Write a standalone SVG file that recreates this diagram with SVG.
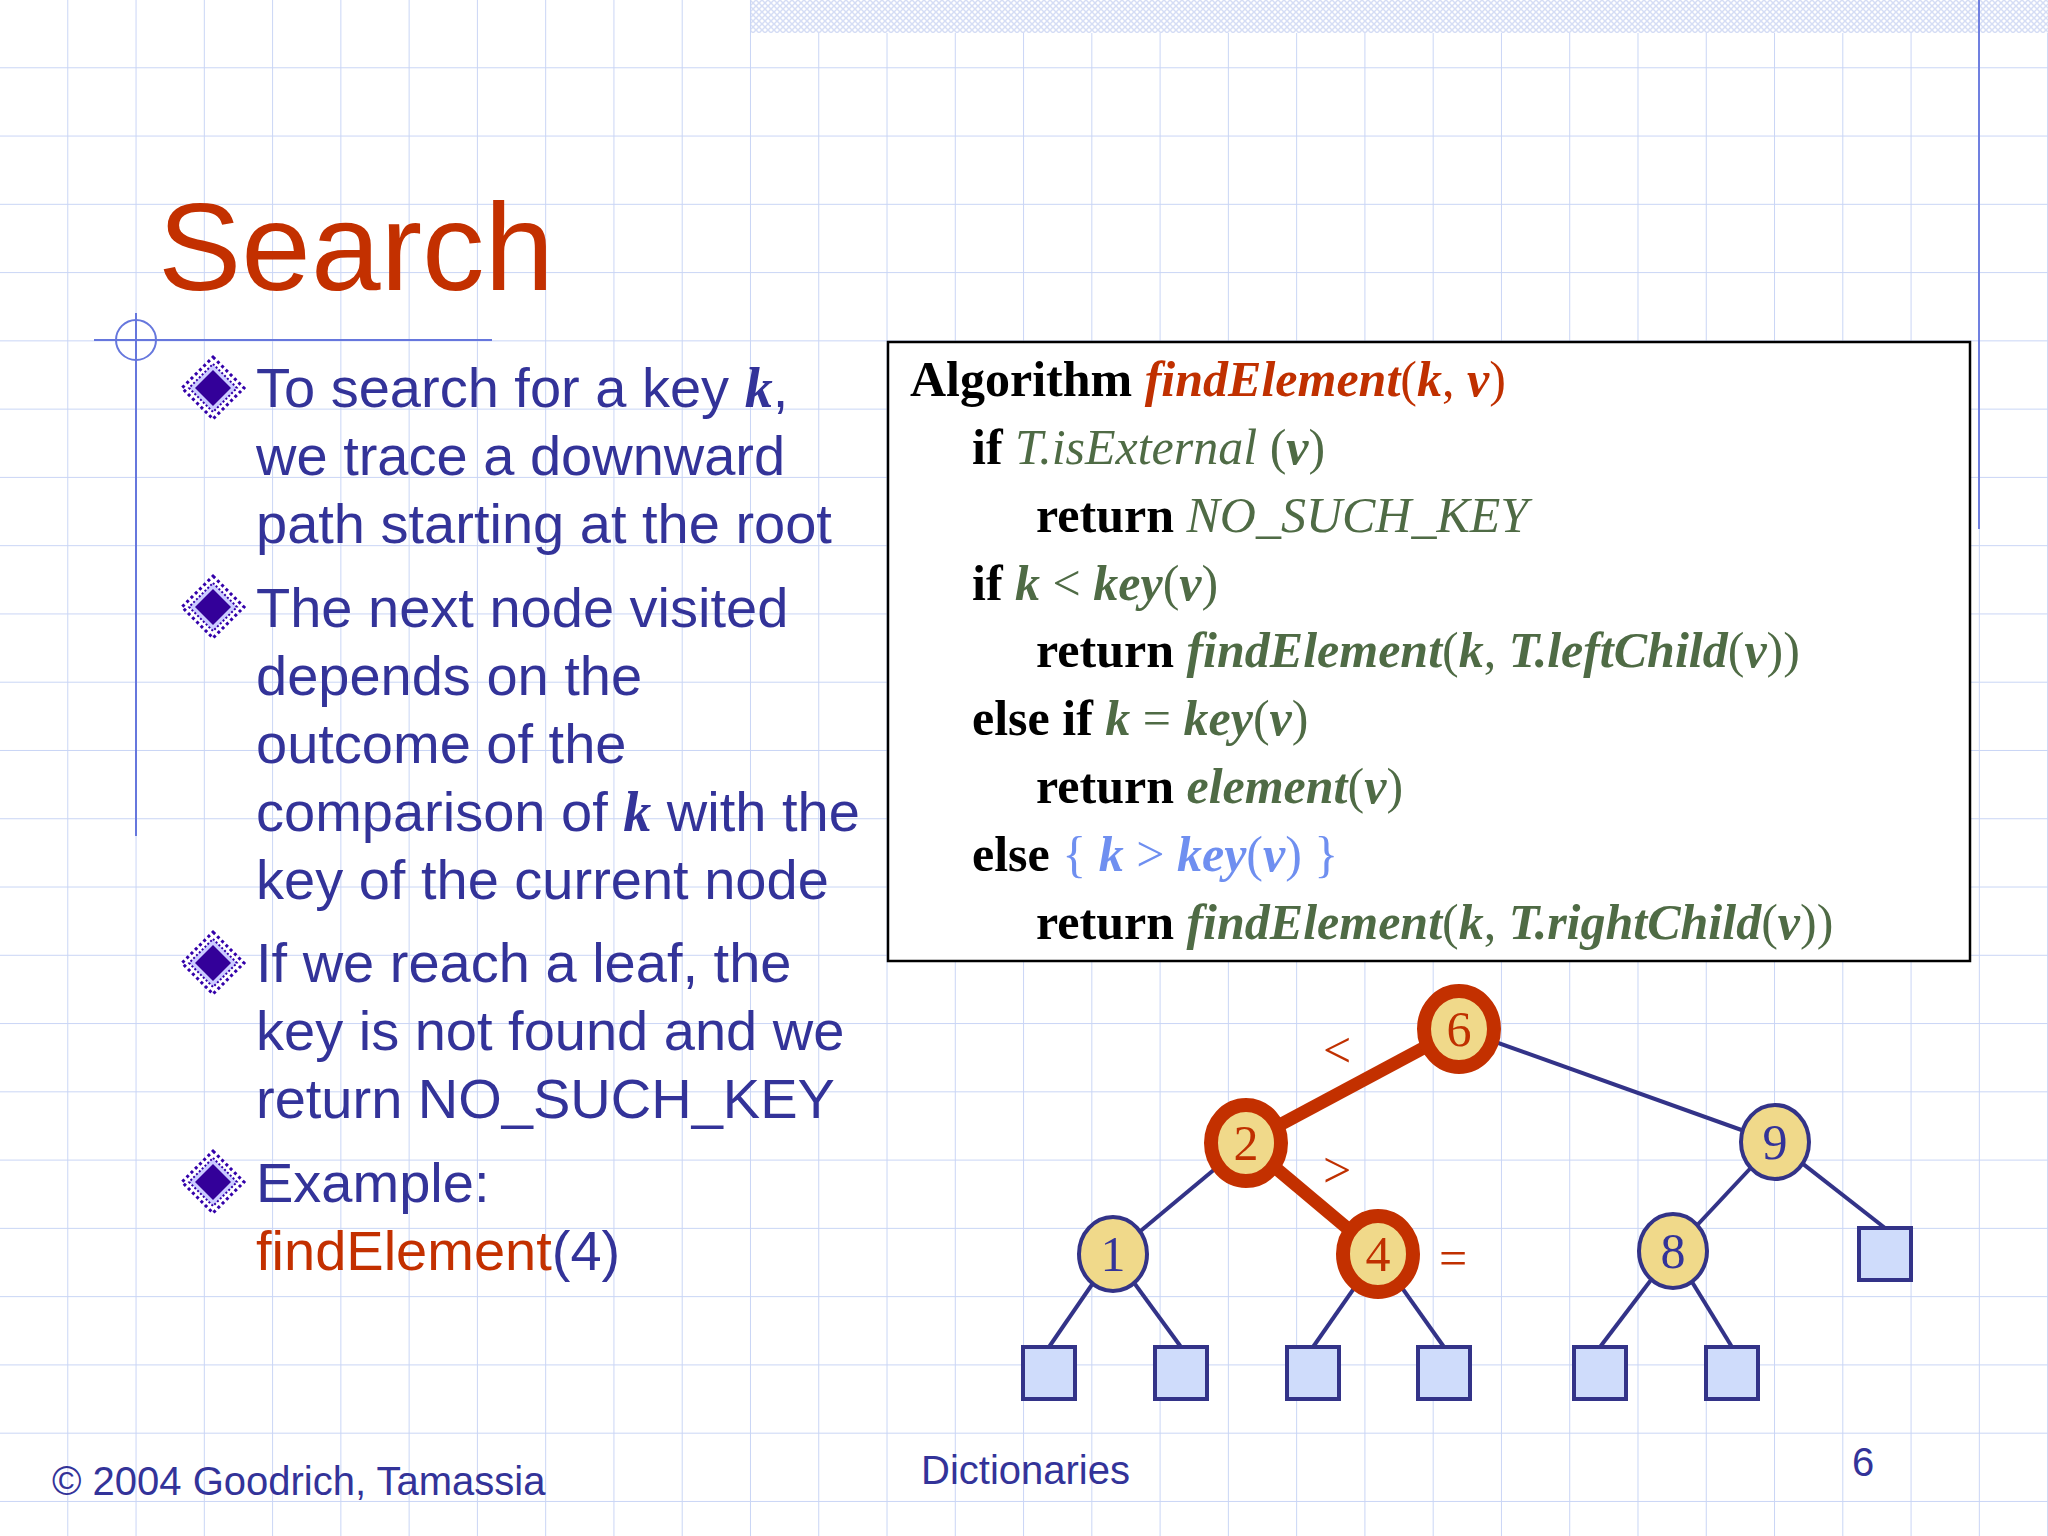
<svg xmlns="http://www.w3.org/2000/svg" width="2048" height="1536" viewBox="0 0 2048 1536">
<defs>
<pattern id="grid" width="68.27" height="68.27" patternUnits="userSpaceOnUse">
<path d="M68.27 0V68.27M0 68.27H68.27" fill="none" stroke="#c9d5f5" stroke-width="2"/>
</pattern>
<pattern id="dots" width="6" height="6" patternUnits="userSpaceOnUse">
<rect width="6" height="6" fill="#fff"/><path d="M0 0L6 6M6 0L0 6" stroke="#d5ddf5" stroke-width="1.5"/>
</pattern>
<g id="bullet">
<path d="M0 -31L31 0L0 31L-31 0Z" fill="#fff" stroke="#3300aa" stroke-width="3" stroke-dasharray="3 3"/>
<path d="M0 -24L24 0L0 24L-24 0Z" fill="#ccccff" stroke="#3300aa" stroke-width="2" stroke-dasharray="2 2"/>
<path d="M0 -18L18 0L0 18L-18 0Z" fill="#330099"/>
</g>
</defs>
<style>
.b{font-family:"Liberation Sans",Arial,sans-serif;font-size:56px;fill:#333399}
.c{font-family:"Liberation Serif","Times New Roman",serif;font-size:50px;fill:#000}
.kw{font-weight:bold}
.red{fill:#c03000;font-style:italic;font-weight:bold}
.g{fill:#4f6b45;font-style:italic}
.lb{fill:#6f8ff0}
.n{font-family:"Liberation Serif","Times New Roman",serif;font-size:50px;text-anchor:middle}
.e{stroke:#333388;stroke-width:4;fill:none}
.er{stroke:#c33000;stroke-width:13;fill:none}
.leaf{fill:#cfdcfb;stroke:#333388;stroke-width:4}
.nd{fill:#f0d98a;stroke:#333388;stroke-width:4}
.ndr{fill:#f0d98a;stroke:#c33000;stroke-width:14}
.f{font-family:"Liberation Sans",Arial,sans-serif;font-size:40px;fill:#333399}
</style>
<rect width="2048" height="1536" fill="#fff"/>
<rect width="2048" height="1536" fill="url(#grid)"/>
<rect x="751" y="0" width="1297" height="33" fill="url(#dots)"/>
<line x1="1979" y1="0" x2="1979" y2="529" stroke="#7080e0" stroke-width="2"/>
<text x="158" y="290" font-family="Liberation Sans,Arial,sans-serif" font-size="125" fill="#c33000">Search</text>
<line x1="94" y1="340" x2="492" y2="340" stroke="#6677dd" stroke-width="2"/>
<circle cx="136" cy="340" r="20" fill="none" stroke="#6677dd" stroke-width="2"/>
<line x1="136" y1="313" x2="136" y2="836" stroke="#6677dd" stroke-width="2"/>
<use href="#bullet" x="213" y="388"/>
<use href="#bullet" x="213" y="607"/>
<use href="#bullet" x="213" y="963"/>
<use href="#bullet" x="213" y="1182"/>
<g class="b">
<text x="256" y="407">To search for a key <tspan font-family="Liberation Serif,serif" font-style="italic" font-weight="bold">k</tspan>,</text>
<text x="256" y="475">we trace a downward</text>
<text x="256" y="543">path starting at the root</text>
<text x="256" y="627">The next node visited</text>
<text x="256" y="695">depends on the</text>
<text x="256" y="763">outcome of the</text>
<text x="256" y="831">comparison of <tspan font-family="Liberation Serif,serif" font-style="italic" font-weight="bold">k</tspan> with the</text>
<text x="256" y="899">key of the current node</text>
<text x="256" y="982">If we reach a leaf, the</text>
<text x="256" y="1050">key is not found and we</text>
<text x="256" y="1118">return NO_SUCH_KEY</text>
<text x="256" y="1202">Example:</text>
<text x="256" y="1270"><tspan fill="#c33000">findElement</tspan>(4)</text>
</g>
<g id="code">
<rect x="888" y="342" width="1082" height="619" fill="#fff" stroke="#000" stroke-width="2.5"/>
<g class="c">
<text x="910" y="396"><tspan class="kw">Algorithm </tspan><tspan class="red">findElement</tspan><tspan fill="#c03000">(</tspan><tspan class="red">k</tspan><tspan fill="#c03000">, </tspan><tspan class="red">v</tspan><tspan fill="#c03000">)</tspan></text>
<text x="972" y="464"><tspan class="kw">if </tspan><tspan class="g">T.isExternal </tspan><tspan fill="#4f6b45">(</tspan><tspan class="g" font-weight="bold">v</tspan><tspan fill="#4f6b45">)</tspan></text>
<text x="1036" y="532"><tspan class="kw">return </tspan><tspan class="g">NO_SUCH_KEY</tspan></text>
<text x="972" y="600"><tspan class="kw">if </tspan><tspan class="g" font-weight="bold">k</tspan><tspan fill="#4f6b45"> &lt; </tspan><tspan class="g" font-weight="bold">key</tspan><tspan fill="#4f6b45">(</tspan><tspan class="g" font-weight="bold">v</tspan><tspan fill="#4f6b45">)</tspan></text>
<text x="1036" y="667"><tspan class="kw">return </tspan><tspan class="g" font-weight="bold">findElement</tspan><tspan fill="#4f6b45">(</tspan><tspan class="g" font-weight="bold">k</tspan><tspan fill="#4f6b45">, </tspan><tspan class="g" font-weight="bold">T.leftChild</tspan><tspan fill="#4f6b45">(</tspan><tspan class="g" font-weight="bold">v</tspan><tspan fill="#4f6b45">))</tspan></text>
<text x="972" y="735"><tspan class="kw">else if </tspan><tspan class="g" font-weight="bold">k</tspan><tspan fill="#4f6b45"> = </tspan><tspan class="g" font-weight="bold">key</tspan><tspan fill="#4f6b45">(</tspan><tspan class="g" font-weight="bold">v</tspan><tspan fill="#4f6b45">)</tspan></text>
<text x="1036" y="803"><tspan class="kw">return </tspan><tspan class="g" font-weight="bold">element</tspan><tspan fill="#4f6b45">(</tspan><tspan class="g" font-weight="bold">v</tspan><tspan fill="#4f6b45">)</tspan></text>
<text x="972" y="871"><tspan class="kw">else  </tspan><tspan class="lb">{ </tspan><tspan class="lb" font-style="italic" font-weight="bold">k</tspan><tspan class="lb"> &gt; </tspan><tspan class="lb" font-style="italic" font-weight="bold">key</tspan><tspan class="lb">(</tspan><tspan class="lb" font-style="italic" font-weight="bold">v</tspan><tspan class="lb">) }</tspan></text>
<text x="1036" y="939"><tspan class="kw">return </tspan><tspan class="g" font-weight="bold">findElement</tspan><tspan fill="#4f6b45">(</tspan><tspan class="g" font-weight="bold">k</tspan><tspan fill="#4f6b45">, </tspan><tspan class="g" font-weight="bold">T.rightChild</tspan><tspan fill="#4f6b45">(</tspan><tspan class="g" font-weight="bold">v</tspan><tspan fill="#4f6b45">))</tspan></text>
</g>
</g>
<g id="connectors">
<line class="e" x1="1459" y1="1029" x2="1775" y2="1142"/>
<line class="e" x1="1246" y1="1143" x2="1113" y2="1254"/>
<line class="e" x1="1775" y1="1142" x2="1673" y2="1251"/>
<line class="e" x1="1775" y1="1142" x2="1885" y2="1228"/>
<line class="e" x1="1113" y1="1254" x2="1049" y2="1347"/>
<line class="e" x1="1113" y1="1254" x2="1181" y2="1347"/>
<line class="e" x1="1378" y1="1254" x2="1313" y2="1347"/>
<line class="e" x1="1378" y1="1254" x2="1444" y2="1347"/>
<line class="e" x1="1673" y1="1251" x2="1600" y2="1347"/>
<line class="e" x1="1673" y1="1251" x2="1732" y2="1347"/>
<line class="er" x1="1459" y1="1029" x2="1246" y2="1143"/>
<line class="er" x1="1246" y1="1143" x2="1378" y2="1254"/>
</g>
<g id="leaves">
<rect class="leaf" x="1023" y="1347" width="52" height="52"/>
<rect class="leaf" x="1155" y="1347" width="52" height="52"/>
<rect class="leaf" x="1287" y="1347" width="52" height="52"/>
<rect class="leaf" x="1418" y="1347" width="52" height="52"/>
<rect class="leaf" x="1574" y="1347" width="52" height="52"/>
<rect class="leaf" x="1706" y="1347" width="52" height="52"/>
<rect class="leaf" x="1859" y="1228" width="52" height="52"/>
</g>
<g id="n6"><ellipse class="ndr" cx="1459" cy="1029" rx="35" ry="38"/><text class="n" x="1459" y="1046" fill="#c03000">6</text></g>
<g id="n2"><ellipse class="ndr" cx="1246" cy="1143" rx="35" ry="38"/><text class="n" x="1246" y="1160" fill="#c03000">2</text></g>
<g id="n4"><ellipse class="ndr" cx="1378" cy="1254" rx="35" ry="38"/><text class="n" x="1378" y="1271" fill="#c03000">4</text></g>
<g id="n9"><ellipse class="nd" cx="1775" cy="1142" rx="34" ry="37"/><text class="n" x="1775" y="1159" fill="#333399">9</text></g>
<g id="n1"><ellipse class="nd" cx="1113" cy="1254" rx="34" ry="37"/><text class="n" x="1113" y="1271" fill="#333399">1</text></g>
<g id="n8"><ellipse class="nd" cx="1673" cy="1251" rx="34" ry="37"/><text class="n" x="1673" y="1268" fill="#333399">8</text></g>
<g class="n" fill="#c03000">
<text x="1337" y="1067">&lt;</text>
<text x="1337" y="1187">&gt;</text>
<text x="1453" y="1275">=</text>
</g>
<text class="f" x="52" y="1495">© 2004 Goodrich, Tamassia</text>
<text class="f" x="921" y="1484">Dictionaries</text>
<text class="f" x="1852" y="1476">6</text>
</svg>
